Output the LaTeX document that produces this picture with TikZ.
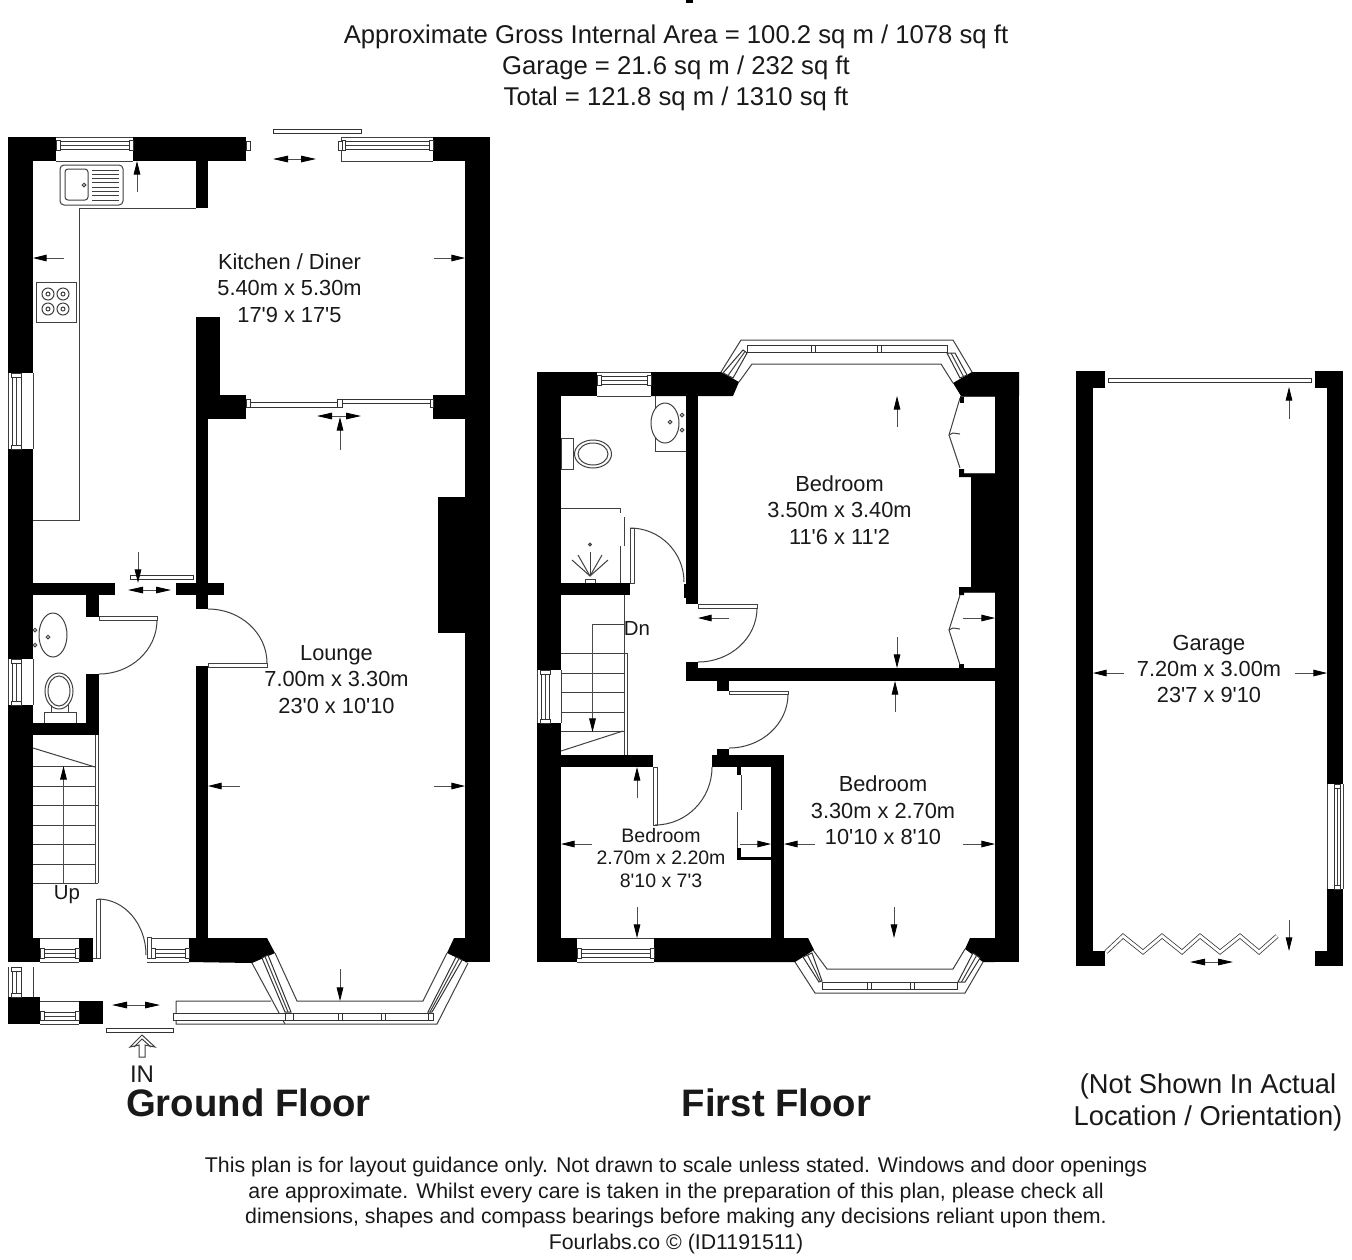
\documentclass[tikz,border=0pt]{standalone}
\usepackage{fontspec}
\newfontfamily\lib{Liberation Sans}
\usetikzlibrary{arrows.meta,calc}
\tikzset{
  wall/.style={fill=black,draw=none},
  ln/.style={draw=black!75,line width=0.5pt},
  glz/.style={draw=black!80,line width=0.5pt,fill=white},
  leaf/.style={draw=black!75,line width=0.5pt,fill=white},
  dimarrow/.style={draw=black!70,line width=0.4pt,-{Triangle[length=6.8pt,width=3.3pt,black]}},
  slide/.style={draw=black!70,line width=0.4pt,{Triangle[length=7.5pt,width=3.3pt,black]}-{Triangle[length=7.5pt,width=3.3pt,black]}},
  lbl/.style={font=\lib\fontsize{10.9}{13.2}\selectfont,align=center,text=black!90,inner sep=0pt},
  lblt/.style={font=\lib\fontsize{10.2}{13}\selectfont,align=center,text=black!90,inner sep=0pt},
  lbls/.style={font=\lib\fontsize{9.75}{11.4}\selectfont,align=center,text=black!90,inner sep=0pt},
  head/.style={font=\lib\fontsize{12.84}{15.4}\selectfont,align=center,text=black!90,inner sep=0pt},
  foot/.style={font=\lib\fontsize{10.66}{12.9}\selectfont,align=center,text=black!90,inner sep=0pt},
  note/.style={font=\lib\fontsize{13.65}{16}\selectfont,align=center,text=black!90,inner sep=0pt},
  title/.style={font=\lib\bfseries\fontsize{19.15}{22}\selectfont,text=black!90,inner sep=0pt},
}
\newcommand\wl[4]{\fill[wall] (#1,#2) rectangle (#3,#4);}
\newcommand\hwin[4]{%
  \draw[ln] (#1,#3)--(#2,#3) (#1,#4)--(#2,#4);
  \draw[glz] ({#1+1},{#3+(#4-#3)*.17}) rectangle ({#2-1},{#3+(#4-#3)*.52});
  \draw[ln] ({#1+1},{#3+(#4-#3)*.345})--({#2-1},{#3+(#4-#3)*.345});
  \draw[glz] (#1,{#3+(#4-#3)*.14}) rectangle ({#1+4},{#3+(#4-#3)*.55});
  \draw[glz] ({#2-4},{#3+(#4-#3)*.14}) rectangle (#2,{#3+(#4-#3)*.55});
}
\newcommand\vwin[4]{%
  \draw[ln] (#3,#1)--(#3,#2) (#4,#1)--(#4,#2);
  \draw[glz] ({#3+(#4-#3)*.17},{#1+1}) rectangle ({#3+(#4-#3)*.52},{#2-1});
  \draw[ln] ({#3+(#4-#3)*.345},{#1+1})--({#3+(#4-#3)*.345},{#2-1});
  \draw[glz] ({#3+(#4-#3)*.14},#1) rectangle ({#3+(#4-#3)*.55},{#1+4});
  \draw[glz] ({#3+(#4-#3)*.14},{#2-4}) rectangle ({#3+(#4-#3)*.55},#2);
}
% quarter arc from a via corner p to b
\newcommand\qarc[6]{\draw[ln] (#1,#2) .. controls ({#1+.5523*(#3-#1)},{#2+.5523*(#4-#2)}) and ({#5+.5523*(#3-#5)},{#6+.5523*(#4-#6)}) .. (#5,#6);}
% bay side strip: a-b one edge, c-d other edge
\newcommand\bays[8]{%
  \draw[glz] (#1,#2)--(#3,#4)--(#7,#8)--(#5,#6)--cycle;
  \draw[ln] ($(#1,#2)!.5!(#5,#6)$)--($(#3,#4)!.5!(#7,#8)$);
}
\begin{document}
\begin{tikzpicture}[x=0.5pt,y=-0.5pt]
\useasboundingbox (0,0) rectangle (1352,1259);
\fill[white] (0,0) rectangle (1352,1259);

%% ---------- texts
\fill[black] (686,0) rectangle (693,3);
\node[head] (areas) at (676,68) {Approximate Gross Internal Area = 100.2 sq m / 1078 sq ft\\Garage = 21.6 sq m / 232 sq ft\\Total = 121.8 sq m / 1310 sq ft};
\node[title] (gf) at (248.5,1103) {Ground Floor};
\node[title] (ff) at (776.5,1103) {First Floor};
\node[note] (nsl) at (1208,1102.5) {(Not Shown In Actual\\Location / Orientation)};
\node[foot] (disc) at (676,1205.5) {This plan is for layout guidance only. Not drawn to scale unless stated. Windows and door openings\\are approximate. Whilst every care is taken in the preparation of this plan, please check all\\dimensions, shapes and compass bearings before making any decisions reliant upon them.\\Fourlabs.co \textcopyright{} (ID1191511)};

%% ---------- GROUND FLOOR walls
\wl{8}{137}{33}{373}
\wl{8}{137}{56}{161}
\wl{133}{137}{246}{161}
\wl{433}{137}{490}{161}
\wl{465}{137}{490}{962}
\wl{438}{497}{465}{633}
\wl{196}{161}{208}{208}
\wl{196}{317}{220}{419}
\wl{196}{395}{246}{419}
\wl{433}{395}{465}{419}
\wl{196}{419}{208}{609}
\wl{176}{583}{224}{595}
\wl{8}{449}{33}{659}
\wl{33}{583}{115}{595}
\wl{86}{595}{99}{617}
\wl{8}{705}{33}{962}
\wl{86}{674}{99}{735}
\wl{33}{723}{99}{735}
\wl{196}{666}{208}{938}
\wl{8}{938}{40}{962}
\wl{79}{938}{93}{962}
\fill[wall] (189,938)--(267,938)--(275,953)--(252,963)--(189,962)--cycle;
\fill[wall] (454,938)--(465,938)--(465,962)--(468,963)--(447,953)--cycle;
\wl{8}{997}{40}{1024}
\wl{79}{1001}{103}{1024}

%% ground windows
\hwin{56}{133}{137}{161}
\hwin{341}{433}{137}{161}
\draw[ln] (341,137)--(341,161);
\draw[glz] (246,141) rectangle (250,150);
\draw[glz] (338,141) rectangle (342,150);
\draw[glz] (273,129.5) rectangle (361,133.5);
\vwin{373}{449}{8}{33}
\vwin{659}{705}{8}{33}
\vwin{967}{997}{8}{33}
\hwin{40}{79}{962}{938}
\hwin{151}{189}{962}{938}
\hwin{40}{79}{1024}{1001}
%% kitchen internal sliding door
\draw[glz] (250,402.5) rectangle (338,407);
\draw[glz] (246,399) rectangle (250,407);
\draw[glz] (337,399) rectangle (342,407);
\draw[glz] (342,399) rectangle (430,403);
\draw[glz] (430,399) rectangle (433,407);
\draw[glz] (130,575) rectangle (193,579);
%% counter, sink, hob
\draw[ln] (196,208)--(79,208)--(79,520)--(33,520);
\draw[ln,fill=white,rounded corners=2pt] (60,165) rectangle (123,205);
\draw[ln,rounded corners=1.5pt] (65,169) rectangle (88,200);
\draw[ln] (84,185) circle[radius=1.8];
\foreach \yy in {170,174.3,...,201}{\draw[ln] (92,\yy)--(119,\yy);}
\draw[ln] (36,282) rectangle (76,322);
\foreach \xx in {48,63}{\foreach \yy in {294,309}{\draw[ln] (\xx,\yy) circle[radius=6]; \draw[ln] (\xx,\yy) circle[radius=2];}}
%% cloakroom fittings
\draw[ln] (53,635) ellipse[x radius=14,y radius=22];
\draw[ln] (48,637) circle[radius=1.8];
\draw[ln] (35,630) circle[radius=1.8] (35,645) circle[radius=1.8];
\draw[ln] (59,691) ellipse[x radius=14,y radius=18];
\draw[ln] (59,691) ellipse[x radius=11,y radius=15];
\draw[ln] (44,723)--(44,712)--(76,712)--(76,723);
\draw[ln] (51,705)--(51,712) (68,705)--(68,712);
%% ground doors
\draw[leaf] (99,616.5) rectangle (157,620);
\qarc{157}{620}{157}{674}{99}{674}
\draw[leaf] (208,663) rectangle (267,667);
\qarc{208}{609}{267}{609}{267}{663}
\draw[leaf] (96,899) rectangle (100,958);
\draw[ln] (93,958)--(96,958);
\qarc{98}{899}{146}{899}{146}{955}
\draw[leaf] (147,937) rectangle (151,958);
\draw[ln] (147,962)--(189,962);
%% stairs
\foreach \yy in {766,786,825,844,864}{\draw[ln] (33,\yy)--(95,\yy);}
\draw[ln] (33,805)--(98,805);
\draw[ln] (33,883)--(98,883);
\draw[ln] (95,735)--(95,883) (98,735)--(98,883);
\draw[ln] (33,748)--(95,767);
\draw[dimarrow] (63.5,883)--(63.5,766);
\node[lblt] (up) at (67,895) {Up};
%% ground bay
\draw[ln] (275,953)--(297,1001)--(423,1001)--(447,953);
\draw[ln] (176,1001)--(271,1001) (176,1001)--(176,1024)--(437,1024)--(468,963);
\draw[ln] (252,963)--(285,1024);
\bays{262}{958}{285}{1012}{268}{955}{291}{1012}
\bays{456}{957}{428}{1012}{462}{960}{432}{1012}
\draw[glz] (173,1013) rectangle (285,1020.5);
\draw[glz] (285,1013) rectangle (293,1020.5);
\draw[glz] (293,1013) rectangle (428,1020.5);
\draw[glz] (338,1013) rectangle (342,1020.5);
\draw[glz] (381,1013) rectangle (385,1020.5);
\draw[glz] (428,1013) rectangle (433,1020.5);
\draw[glz] (106,1028) rectangle (173,1032);
%% IN
\draw[ln] (139,1057)--(139,1045)--(130,1047)--(142,1035)--(155,1047)--(145,1045)--(145,1057)--cycle;
\draw[ln] (134,1047)--(142,1039)--(151,1047);
\node[font=\lib\fontsize{12}{14}\selectfont,text=black!90,inner sep=0pt] (in) at (142,1074) {IN};

%% ground arrows
\draw[dimarrow] (137,192)--(137,161);
\draw[dimarrow] (64,258)--(33,258);
\draw[dimarrow] (434,258)--(465,258);
\draw[dimarrow] (340,450)--(340,417);
\draw[dimarrow] (138,552)--(138,583);
\draw[slide] (273,159)--(316,159);
\draw[slide] (317,416)--(361,416);
\draw[slide] (128,590)--(171,590);
\draw[slide] (112,1005)--(160,1005);
\draw[dimarrow] (240,786)--(208,786);
\draw[dimarrow] (434,786)--(465,786);
\draw[dimarrow] (340,969)--(340,1001);
\node[lbl] (kitchen) at (289.5,288) {Kitchen / Diner\\5.40m x 5.30m\\17'9 x 17'5};
\node[lbl] (lounge) at (336.5,679.5) {Lounge\\7.00m x 3.30m\\23'0 x 10'10};

%% ---------- FIRST FLOOR walls
\wl{537}{372}{561}{670}
\wl{537}{723}{561}{962}
\wl{537}{372}{597}{396}
\fill[wall] (651,372)--(721,372)--(739,382)--(733,396)--(651,396)--cycle;
\fill[wall] (953,383)--(972,372)--(1019,372)--(1019,396)--(961,396)--cycle;
\wl{960}{396}{964}{403}
\wl{995}{372}{1019}{962}
\wl{686}{396}{698}{604}
\wl{684}{584}{687}{598}
\fill[wall] (959,469)--(964,469)--(964,473)--(995,473)--(995,592)--(964,592)--(964,595)--(959,595)--(959,587)--(971,587)--(971,477)--(959,477)--cycle;
\wl{959}{664}{964}{668}
\wl{686}{668}{995}{681}
\wl{686}{662}{698}{668}
\wl{717}{681}{729}{691}
\wl{561}{583}{630}{595}
\wl{561}{755}{653}{767}
\wl{712}{755}{784}{767}
\wl{717}{749}{729}{755}
\wl{771}{755}{784}{938}
\wl{537}{938}{577}{962}
\fill[wall] (654,938)--(808,938)--(814,950)--(795,962)--(654,962)--cycle;
\fill[wall] (970,938)--(995,938)--(995,962)--(983,962)--(965,949)--cycle;
\wl{737}{767}{741}{775}
\wl{737}{848}{741}{860}
\wl{737}{857}{771}{860}
%% first windows
\hwin{597}{651}{372}{396}
\vwin{670}{723}{537}{561}
\hwin{577}{654}{962}{938}
%% bathroom
\draw[ln] (655,396)--(655,451)--(686,451);
\draw[ln,fill=white] (665,423) ellipse[x radius=14,y radius=20];
\draw[ln] (670,422) circle[radius=1.8];
\draw[ln] (682,415) circle[radius=1.8] (682,430) circle[radius=1.8];
\draw[ln] (561,438) rectangle (573,469);
\draw[ln] (593,454) ellipse[x radius=18.5,y radius=14];
\draw[ln] (593,454) ellipse[x radius=15,y radius=11];
\draw[ln] (561,508)--(620,508)--(620,513);
\draw[ln] (624,517)--(624,546) (620,546)--(620,583);
\foreach \xx/\yy in {572/560,578/555,590/552,602/555,608/560}{\draw[ln] (590,576)--(\xx,\yy);}
\draw[ln] (590,544.5) circle[radius=1.4];
\draw[ln] (585,583)--(585,579)--(595,579)--(595,583);
%% doors
\draw[leaf] (630,528) rectangle (634,583);
\qarc{630}{528}{684}{528}{684}{582}
\draw[leaf] (698,604) rectangle (757,608);
\qarc{757}{608}{757}{662}{698}{662}
\draw[leaf] (653,767) rectangle (657,825);
\qarc{655}{825}{712}{825}{712}{767}
\draw[leaf] (729,691) rectangle (788,694.5);
\qarc{788}{694}{788}{748}{729}{748}
%% wardrobes
\draw[ln] (960,398)--(949,435)--(960,468);
\draw[ln] (949,435)--(953,433)--(960,434);
\draw[ln] (960,595)--(949,630)--(960,665);
\draw[ln] (949,630)--(953,628)--(960,629);
\draw[ln] (964,473)--(995,473);
\draw[ln] (964,592)--(995,592);
\draw[ln] (960,396)--(995,396);
%% small cupboard
\draw[ln] (741,775)--(741,810) (737,812)--(737,848);
%% first stairs
\draw[ln] (624,595)--(624,755);
\draw[ln] (627.5,653)--(627.5,755);
\foreach \yy in {673,692,712,731}{\draw[ln] (561,\yy)--(624,\yy);}
\draw[ln] (561,653)--(627.5,653);
\draw[ln] (592.5,624)--(624,624);
\draw[ln] (561,751)--(623,731);
\draw[dimarrow] (592.5,624)--(592.5,732);
\node[lblt] (dn) at (637,628.5) {Dn};
%% upper bay
\draw[ln] (721,372)--(741,340)--(953,340)--(972,372);
\draw[ln] (739,382)--(752,364)--(941,364)--(953,383);
\bays{723}{373}{743}{350}{733}{378}{747}{353}
\bays{967}{375}{955}{353}{960}{378}{947}{353}
\draw[glz] (747,345) rectangle (947,352.5);
\draw[glz] (811,345) rectangle (815,352.5);
\draw[glz] (877,345) rectangle (881,352.5);
%% lower bay
\draw[ln] (795,962)--(815,993)--(965,993)--(983,962);
\draw[ln] (813,950)--(827,969)--(953,969)--(965,949);
\bays{803}{957}{819}{982}{812}{953}{822}{981}
\bays{973}{953}{958}{982}{980}{958}{965}{982}
\draw[glz] (822,982) rectangle (957,989);
\draw[glz] (867,982) rectangle (871,989);
\draw[glz] (910,982) rectangle (914,989);
%% first arrows
\draw[dimarrow] (897,427)--(897,396);
\draw[dimarrow] (729,618)--(698,618);
\draw[dimarrow] (963,618)--(995,618);
\draw[dimarrow] (897,637)--(897,668);
\draw[dimarrow] (895,712)--(895,681);
\draw[dimarrow] (637,798)--(637,767);
\draw[dimarrow] (637,907)--(637,938);
\draw[dimarrow] (592,844)--(561,844);
\draw[dimarrow] (740,844)--(771,844);
\draw[dimarrow] (815,844)--(784,844);
\draw[dimarrow] (963,844)--(995,844);
\draw[dimarrow] (894,907)--(894,938);
\node[lbl] (bed1) at (839.5,510) {Bedroom\\3.50m x 3.40m\\11'6 x 11'2};
\node[lbl] (bed2) at (883,810.5) {Bedroom\\3.30m x 2.70m\\10'10 x 8'10};
\node[lbls] (bed3) at (661,858) {Bedroom\\2.70m x 2.20m\\8'10 x 7'3};

%% ---------- GARAGE
\wl{1076}{371}{1093}{966}
\wl{1076}{371}{1105}{388}
\wl{1076}{951}{1105}{966}
\wl{1327}{371}{1343}{784}
\wl{1315}{371}{1343}{388}
\wl{1327}{889}{1343}{966}
\wl{1315}{951}{1343}{966}
\vwin{784}{889}{1343}{1327}
\draw[glz] (1108,378.5) rectangle (1311,382);
\draw[draw=black!75,line width=2.2pt,line join=miter] (1106,952)--(1123,936)--(1143,952)--(1162,936)--(1182,952)--(1200,936)--(1220,952)--(1240,936)--(1259,952)--(1277,936);
\draw[draw=white,line width=1.4pt,line join=miter] (1106,952)--(1123,936)--(1143,952)--(1162,936)--(1182,952)--(1200,936)--(1220,952)--(1240,936)--(1259,952)--(1277,936);
\draw[dimarrow] (1289,419)--(1289,387);
\draw[dimarrow] (1124,673)--(1093,673);
\draw[dimarrow] (1295,673)--(1327,673);
\draw[dimarrow] (1289,920)--(1289,951);
\draw[slide] (1190,962)--(1233,962);
\node[lbl] (garage) at (1209,669) {Garage\\7.20m x 3.00m\\23'7 x 9'10};
\end{tikzpicture}
\end{document}
